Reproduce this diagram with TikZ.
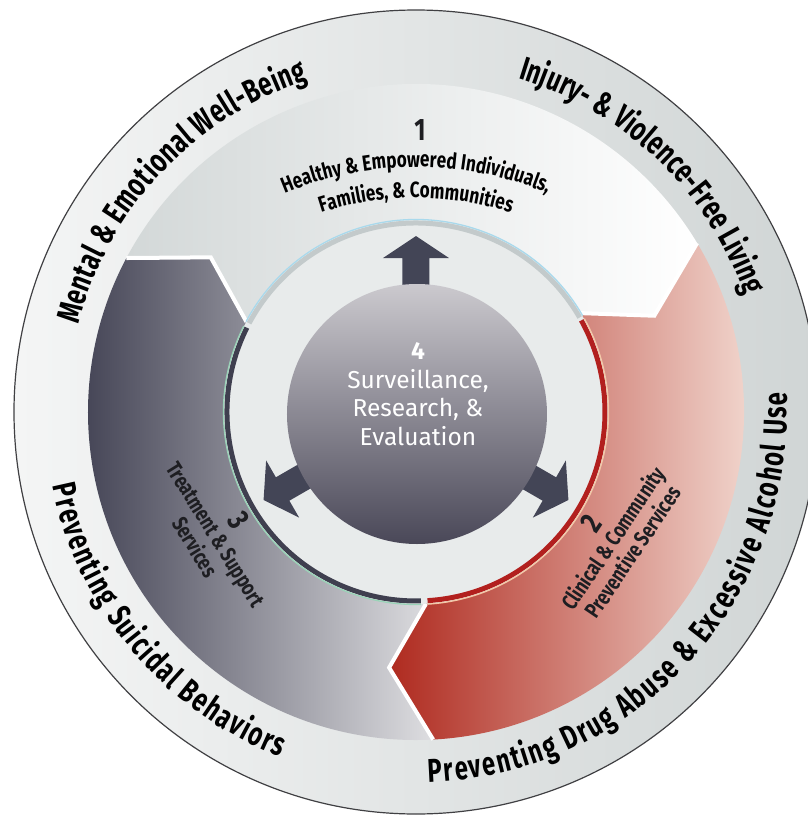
\documentclass[tikz,border=0pt]{standalone}
\usepackage{fontspec}
\setmainfont{Fira Sans}
\newfontfamily\condfont[FakeStretch=0.78]{Fira Sans}
\newfontfamily\narrowfont[FakeStretch=0.72]{Fira Sans}
\usetikzlibrary{decorations.text}
\definecolor{ringlight}{HTML}{F4F5F5}
\definecolor{ringdark}{HTML}{D0D5D5}
\definecolor{bandgray}{HTML}{D3D8D8}
\definecolor{slate}{HTML}{464657}
\definecolor{slatelight}{HTML}{DEDEE1}
\definecolor{reddeep}{HTML}{AF2A1F}
\definecolor{redpale}{HTML}{F8E8E0}
\definecolor{hub}{HTML}{E8EBEB}
\definecolor{rimgray}{HTML}{C3CACB}
\definecolor{rimsky}{HTML}{A9D9EC}
\definecolor{rimred}{HTML}{B2201E}
\definecolor{rimcream}{HTML}{F3C9A8}
\definecolor{rimdark}{HTML}{3F3F4F}
\definecolor{rimmint}{HTML}{9AD3B8}
\definecolor{coretop}{HTML}{CBC9CE}
\definecolor{corebottom}{HTML}{4A4858}
\definecolor{arrowfill}{HTML}{434556}
\definecolor{ink}{HTML}{1E1E22}
\newcommand{\ringfnt}{\fontsize{33}{33}\selectfont\narrowfont\bfseries}
\newcommand{\bandfnt}{\fontsize{22}{24}\selectfont\condfont\bfseries}
\newcommand{\numfnt}{\fontsize{31}{31}\selectfont\condfont\bfseries}
\tikzset{
  band/.style 2 args={insert path={(#1:192)--({#1-9}:257)--(#1:328)
      arc[start angle=#1,end angle=#2,radius=328]--({#2-9}:257)--(#2:192)
      arc[start angle=#2,end angle=#1,radius=192]--cycle}},
  gapline/.style={draw=white,line width=4,line join=miter},
  rim/.style={line width=5},
  rimedge/.style={line width=1.3},
  ringtext/.style={decorate,decoration={text along path,text align=center,text={#1}}},
  fittext/.style={decorate,decoration={text along path,text align=fit to path,text={#1}}},
  bandlabel/.style={text=ink,font=\bandfnt,align=center,inner sep=0pt},
}
\begin{document}
\begin{tikzpicture}[x=1pt,y=1pt,line join=round]
\useasboundingbox (-416,-403) rectangle (392,412);
% outer ring
\shade[left color=ringlight,right color=ringdark] (0,0) circle[radius=402];
\draw[ink!85,line width=1.2] (0,0) circle[radius=402];
% three curved bands
\shade[left color=bandgray,right color=white,band={152}{31}];
\shade[left color=reddeep,right color=redpale,band={31}{-87}];
\shade[left color=slate,right color=slatelight,band={273}{152}];
\draw[gapline] (152:192)--(143:257)--(152:328);
\draw[gapline] (31:192)--(22:257)--(31:328);
\draw[gapline] (273:192)--(264:257)--(273:328);
% hub and rims
\fill[hub] (0,0) circle[radius=192];
\draw[rim,rimgray] (30:189) arc[start angle=30,end angle=152,radius=189];
\draw[rimedge,rimsky] (30:192.5) arc[start angle=30,end angle=152,radius=192.5];
\draw[rim,rimred] (-86.5:189) arc[start angle=-86.5,end angle=29,radius=189];
\draw[rimedge,rimcream] (-86.5:192.5) arc[start angle=-86.5,end angle=29,radius=192.5];
\draw[rim,rimdark] (153.5:189) arc[start angle=153.5,end angle=271.5,radius=189];
\draw[rimedge,rimmint] (153.5:192.5) arc[start angle=153.5,end angle=271.5,radius=192.5];
% arrows out of the core
\foreach \ang in {90,210,330}
  \fill[arrowfill,rotate=\ang-90] (-13.5,118)--(-13.5,154)--(-33,154)--(0,176)--(33,154)--(13.5,154)--(13.5,118)--cycle;
\shade[top color=coretop,bottom color=corebottom] (1,-2) circle[radius=130];
\node[text=white,align=center,font=\fontsize{24.5}{28.5}\selectfont] (core) at (2,18)
  {{\bfseries 4}\\Surveillance,\\Research, \&\\Evaluation};
% outer ring texts
\path[fittext={|\ringfnt|Mental {\&} Emotional Well-Being}] (165.5:349) arc[start angle=165.5,end angle=108,radius=349];
\path[fittext={|\ringfnt|Injury- {\&} Violence-Free Living}] (73:349) arc[start angle=73,end angle=19.5,radius=349];
\path[fittext={|\ringfnt|Preventing Drug Abuse {\&} Excessive Alcohol Use}] (-88:371) arc[start angle=-88,end angle=3,radius=371];
\path[fittext={|\ringfnt|Preventing Suicidal Behaviors}] (191.5:371) arc[start angle=191.5,end angle=248.5,radius=371];
% band 1 label
\node[bandlabel,font=\numfnt] (numone) at (4,282) {1};
\path[ringtext={|\bandfnt|Healthy {\&} Empowered Individuals,}] ([shift={(0,-95)}]150:340) arc[start angle=150,end angle=30,radius=340];
\path[ringtext={|\bandfnt|Families, {\&} Communities}] ([shift={(0,-95)}]150:309) arc[start angle=150,end angle=30,radius=309];
% band 2 and band 3 labels
\node[bandlabel,rotate=56] (clinical) at (195,-125) {{\numfnt 2}\\Clinical \& Community\\Preventive Services};
\node[bandlabel,rotate=-58] (treatment) at (-198,-121) {{\numfnt 3}\\Treatment \& Support\\Services};
\end{tikzpicture}
\end{document}
